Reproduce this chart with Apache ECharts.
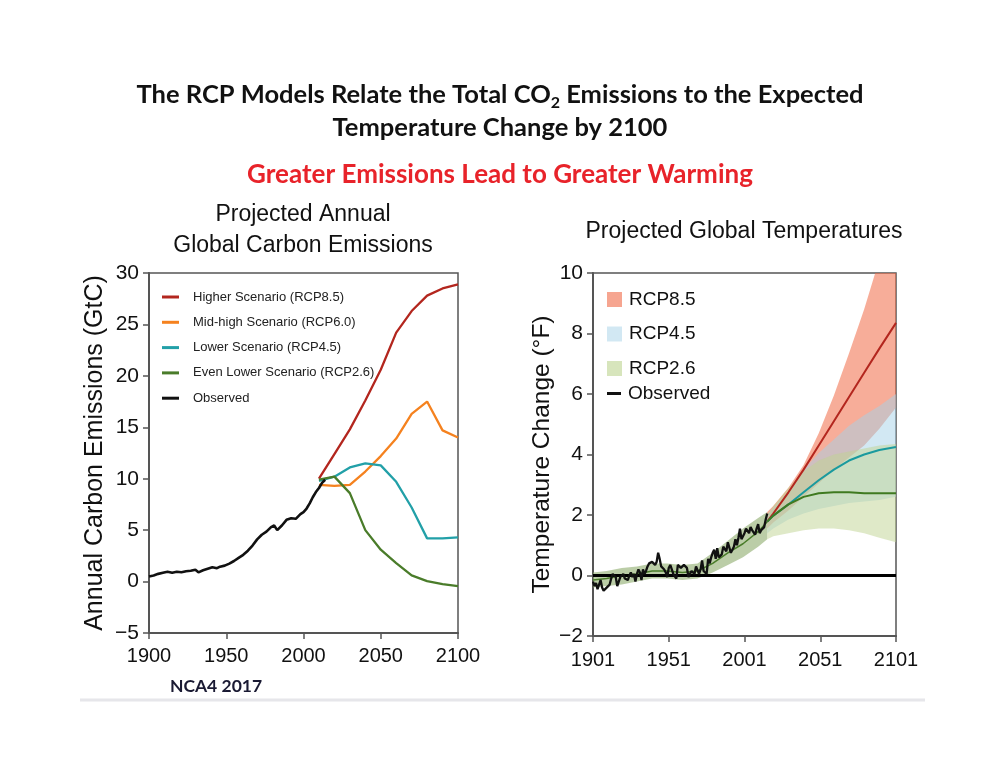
<!DOCTYPE html>
<html>
<head>
<meta charset="utf-8">
<script src="https://cdn.jsdelivr.net/npm/echarts@6/dist/echarts.min.js"></script>
<style>
  html, body { margin: 0; padding: 0; background: #fff; }
  #chart { width: 1000px; height: 773px; }
</style>
</head>
<body>
<div id="chart"></div>
<script>
// ---- left panel: annual carbon emissions (GtC) ----
var emisObsYears = [1900, 1903, 1906, 1909, 1912, 1915, 1918, 1921, 1924, 1927, 1930, 1932, 1935, 1938, 1941, 1944, 1946, 1949, 1952, 1955, 1958, 1961, 1964, 1967, 1970, 1973, 1976, 1979, 1981, 1983, 1986, 1989, 1992, 1995, 1998, 2000, 2002, 2004, 2006, 2008, 2010, 2012, 2014];
var emisObs = [0.5, 0.6, 0.75, 0.85, 0.95, 0.85, 0.95, 0.9, 1.0, 1.05, 1.15, 0.9, 1.1, 1.25, 1.4, 1.3, 1.45, 1.55, 1.75, 2.0, 2.3, 2.6, 3.0, 3.5, 4.1, 4.55, 4.85, 5.3, 5.45, 5.0, 5.45, 6.0, 6.15, 6.1, 6.55, 6.75, 7.1, 7.6, 8.2, 8.7, 9.1, 9.6, 9.9];
var scenYears = [2010, 2020, 2030, 2040, 2050, 2060, 2070, 2080, 2090, 2100];
var emisRcp85 = [10.0, 12.4, 14.8, 17.6, 20.6, 24.2, 26.3, 27.8, 28.5, 28.9];
var emisRcp60 = [9.4, 9.3, 9.4, 10.7, 12.2, 13.9, 16.3, 17.5, 14.7, 14.0];
var emisRcp45 = [9.8, 10.2, 11.1, 11.5, 11.3, 9.7, 7.2, 4.2, 4.2, 4.3];
var emisRcp26 = [9.9, 10.2, 8.6, 5.0, 3.1, 1.8, 0.6, 0.05, -0.25, -0.45];
var emisNames = ['Higher Scenario (RCP8.5)', 'Mid-high Scenario (RCP6.0)', 'Lower Scenario (RCP4.5)', 'Even Lower Scenario (RCP2.6)', 'Observed'];

// ---- right panel: temperature change (°F) ----
var tempObsStart = 1901;
var tempObs = [
  -0.20, -0.35, -0.25, -0.45, -0.30, -0.15, -0.40, -0.50, -0.55, -0.40,
  -0.45, -0.30, -0.10, 0.05, 0.10, -0.05, -0.35, -0.20, -0.05, -0.10,
  0.05, -0.10, -0.05, -0.15, 0.00, 0.10, -0.05, 0.05, -0.20, 0.05,
  0.20, 0.10, -0.15, 0.20, 0.05, 0.15, 0.30, 0.40, 0.35, 0.45,
  0.40, 0.35, 0.45, 0.75, 0.55, 0.30, 0.35, 0.20, 0.10, -0.05,
  0.25, 0.35, 0.40, 0.05, 0.00, -0.10, 0.35, 0.30, 0.25, 0.20,
  0.35, 0.30, 0.25, -0.05, 0.00, 0.15, 0.10, 0.05, 0.30, 0.25,
  0.05, 0.20, 0.50, 0.15, 0.20, 0.05, 0.55, 0.40, 0.60, 0.75,
  0.85, 0.55, 0.90, 0.60, 0.55, 0.70, 0.95, 1.00, 0.80, 1.10,
  1.05, 0.75, 0.85, 0.95, 1.20, 1.00, 1.25, 1.55, 1.20, 1.20,
  1.40, 1.55, 1.50, 1.40, 1.60, 1.50, 1.55, 1.35, 1.55, 1.70,
  1.40, 1.50, 1.55, 1.60, 1.85, 2.05
];
var histYears = [1901, 1910, 1920, 1930, 1940, 1950, 1960, 1970, 1980, 1990, 2000, 2010, 2016];
var histMean = [-0.15, -0.1, 0.0, 0.05, 0.15, 0.15, 0.1, 0.15, 0.4, 0.75, 1.05, 1.45, 1.78];
var histLow = [-0.4, -0.35, -0.3, -0.2, -0.1, -0.1, -0.15, -0.1, 0.1, 0.35, 0.6, 0.95, 1.2];
var histHigh = [0.1, 0.15, 0.25, 0.3, 0.4, 0.4, 0.35, 0.4, 0.75, 1.15, 1.55, 1.9, 2.1];
var projYears = [2016, 2020, 2030, 2040, 2050, 2060, 2070, 2080, 2090, 2101];
var rcp85Mean = [1.78, 2.05, 2.75, 3.5, 4.3, 5.1, 5.9, 6.7, 7.5, 8.35];
var rcp85Low = [1.55, 1.75, 2.15, 2.6, 3.05, 3.5, 3.9, 4.3, 4.85, 5.55];
var rcp85High = [2.1, 2.3, 2.9, 3.65, 4.7, 5.95, 7.35, 8.8, 10.45, 12.3];
var rcp45Mean = [1.78, 1.98, 2.35, 2.75, 3.15, 3.5, 3.8, 4.0, 4.15, 4.25];
var rcp45Low = [1.4, 1.55, 1.85, 2.05, 2.2, 2.3, 2.4, 2.45, 2.5, 2.6];
var rcp45High = [2.0, 2.25, 2.8, 3.5, 4.05, 4.5, 4.95, 5.3, 5.6, 6.0];
var rcp26Mean = [1.78, 1.98, 2.35, 2.6, 2.72, 2.75, 2.75, 2.72, 2.72, 2.72];
var rcp26Low = [1.2, 1.3, 1.4, 1.5, 1.55, 1.55, 1.5, 1.4, 1.25, 1.1];
var rcp26High = [2.0, 2.3, 2.9, 3.45, 3.8, 4.0, 4.1, 4.2, 4.3, 4.35];

var F = '"Liberation Sans", Arial, sans-serif';
var axisCol = '#555';

function pairs(xs, ys) {
  var out = [];
  for (var i = 0; i < xs.length; i++) out.push([xs[i], ys[i]]);
  return out;
}

function minusFmt(v) {
  return String(v).replace('-', '\u2212');
}

// shaded range: one polygon through upper edge then back along lower edge
function band(name, xs, lo, hi, color) {
  var rows = [];
  for (var i = 0; i < xs.length; i++) rows.push([xs[i], lo[i], hi[i]]);
  return {
    name: name, type: 'custom', xAxisIndex: 1, yAxisIndex: 1,
    z: 1, silent: true, clip: true,
    itemStyle: { color: color },
    encode: { x: 0, y: [1, 2] },
    data: rows,
    renderItem: function (params, api) {
      if (params.dataIndex !== 0) return null;
      var pts = [];
      for (var j = 0; j < rows.length; j++) pts.push(api.coord([rows[j][0], rows[j][2]]));
      for (var j2 = rows.length - 1; j2 >= 0; j2--) pts.push(api.coord([rows[j2][0], rows[j2][1]]));
      return { type: 'polygon', shape: { points: pts }, style: { fill: color } };
    }
  };
}

function line(name, xi, xs, ys, color, w, z) {
  return {
    name: name, type: 'line', xAxisIndex: xi, yAxisIndex: xi,
    data: pairs(xs, ys), showSymbol: false, silent: true, z: z || 3,
    itemStyle: { color: color },
    lineStyle: { color: color, width: w }
  };
}

var obsYears = [];
for (var k = 0; k < tempObs.length; k++) obsYears.push(tempObsStart + k);

var myChart = echarts.init(document.getElementById('chart'));

var series = [
  line(emisNames[0], 0, scenYears, emisRcp85, '#b3261e', 2.3),
  line(emisNames[1], 0, scenYears, emisRcp60, '#f5821f', 2.3),
  line(emisNames[2], 0, scenYears, emisRcp45, '#22a0a8', 2.3),
  line(emisNames[3], 0, scenYears, emisRcp26, '#4a7c2a', 2.3),
  line(emisNames[4], 0, emisObsYears, emisObs, '#111', 2.6, 4),
  band('hist', histYears, histLow, histHigh, 'rgba(150,178,120,0.65)'),
  band('RCP8.5', projYears, rcp85Low, rcp85High, 'rgba(240,105,70,0.55)'),
  band('RCP4.5', projYears, rcp45Low, rcp45High, 'rgba(165,209,231,0.5)'),
  band('RCP2.6', projYears, rcp26Low, rcp26High, 'rgba(191,211,145,0.5)'),
  line('hist mean', 1, histYears, histMean, '#4a7c2a', 1.5, 2),
  line('rcp85 mean', 1, projYears, rcp85Mean, '#b3261e', 2),
  line('rcp45 mean', 1, projYears, rcp45Mean, '#1a9a9e', 2),
  line('rcp26 mean', 1, projYears, rcp26Mean, '#3f7a20', 2)
];
var obsSeries = line('Observed', 1, obsYears, tempObs, '#111', 2.3, 4);
obsSeries.markLine = {
  silent: true, symbol: 'none', z: 3, label: { show: false },
  lineStyle: { color: '#000', width: 3, type: 'solid' },
  data: [{ yAxis: 0 }]
};
series.push(obsSeries);

var option = {
  backgroundColor: '#fff',
  animation: false,
  title: [{
    text: 'The RCP Models Relate the Total CO{sub|2} Emissions to the Expected\nTemperature Change by 2100',
    left: 500, top: 78, textAlign: 'center', padding: 0,
    textStyle: {
      fontFamily: 'Lato, "Open Sans", sans-serif', fontWeight: 'bold', fontSize: 25.5,
      color: '#111', lineHeight: 33,
      rich: { sub: { fontFamily: 'Lato, sans-serif', fontWeight: 'bold', fontSize: 16, lineHeight: 16, verticalAlign: 'bottom', color: '#111' } }
    }
  }, {
    text: 'Greater Emissions Lead to Greater Warming',
    left: 500, top: 160, textAlign: 'center', padding: 0,
    textStyle: { fontFamily: 'Lato, sans-serif', fontWeight: 'bold', fontSize: 26, color: '#e8232a', lineHeight: 30 }
  }, {
    text: 'Projected Annual\nGlobal Carbon Emissions',
    left: 303, top: 199, textAlign: 'center', padding: 0,
    textStyle: { fontFamily: F, fontWeight: 'normal', fontSize: 23, color: '#111', lineHeight: 31 }
  }, {
    text: 'Projected Global Temperatures',
    left: 744, top: 217, textAlign: 'center', padding: 0,
    textStyle: { fontFamily: F, fontWeight: 'normal', fontSize: 23, color: '#111', lineHeight: 30 }
  }, {
    text: 'NCA4 2017',
    left: 216, top: 676, textAlign: 'center', padding: 0,
    textStyle: { fontFamily: 'Lato, sans-serif', fontWeight: 'bold', fontSize: 17.5, color: '#1a1a33', lineHeight: 20 }
  }],
  legend: [{
    data: emisNames,
    orient: 'vertical', left: 162, top: 289, padding: 0,
    icon: 'rect', itemWidth: 17, itemHeight: 3, itemGap: 9.3,
    textStyle: { fontFamily: F, fontSize: 13, color: '#222', lineHeight: 16, padding: [0, 0, 0, 9] }
  }, {
    data: [
      { name: 'RCP8.5', itemStyle: { color: '#f6a590' } },
      { name: 'RCP4.5', itemStyle: { color: '#d2e8f3' } },
      { name: 'RCP2.6', itemStyle: { color: '#d7e5bc' } }
    ],
    orient: 'vertical', left: 607, top: 290, padding: 0,
    icon: 'rect', itemWidth: 15, itemHeight: 15, itemGap: 15.5,
    textStyle: { fontFamily: F, fontSize: 19, color: '#111', lineHeight: 18, padding: [0, 0, 0, 2] }
  }, {
    data: ['Observed'],
    orient: 'vertical', left: 607, top: 384, padding: 0,
    icon: 'rect', itemWidth: 14, itemHeight: 3,
    textStyle: { fontFamily: F, fontSize: 19, color: '#111', lineHeight: 18, padding: [0, 0, 0, 2] }
  }],
  grid: [
    { left: 149, top: 273, width: 309, height: 360, show: true, borderColor: axisCol, borderWidth: 1.5, backgroundColor: 'transparent' },
    { left: 593, top: 273, width: 303, height: 363, show: true, borderColor: axisCol, borderWidth: 1.5, backgroundColor: 'transparent' }
  ],
  xAxis: [{
    gridIndex: 0, type: 'value', min: 1900, max: 2100, interval: 50,
    axisLine: { show: true, onZero: false, lineStyle: { color: axisCol, width: 2 } },
    axisTick: { show: true, inside: false, length: 6, lineStyle: { color: axisCol, width: 1.5 } },
    axisLabel: { fontFamily: F, fontSize: 20, color: '#111', margin: 13, formatter: function (v) { return String(v); } },
    splitLine: { show: false }
  }, {
    gridIndex: 1, type: 'value', min: 1901, max: 2101, interval: 50,
    axisLine: { show: true, onZero: false, lineStyle: { color: axisCol, width: 2 } },
    axisTick: { show: true, inside: false, length: 6, lineStyle: { color: axisCol, width: 1.5 } },
    axisLabel: { fontFamily: F, fontSize: 20, color: '#111', margin: 14, formatter: function (v) { return String(v); } },
    splitLine: { show: false }
  }],
  yAxis: [{
    gridIndex: 0, type: 'value', min: -5, max: 30, interval: 5,
    name: 'Annual Carbon Emissions (GtC)', nameLocation: 'middle', nameGap: 41,
    nameTextStyle: { fontFamily: F, fontSize: 25, color: '#111' },
    axisLine: { show: true, onZero: false, lineStyle: { color: axisCol, width: 2 } },
    axisTick: { show: true, inside: false, length: 6, lineStyle: { color: axisCol, width: 1.5 } },
    axisLabel: { fontFamily: F, fontSize: 21, color: '#111', margin: 10, formatter: minusFmt },
    splitLine: { show: false }
  }, {
    gridIndex: 1, type: 'value', min: -2, max: 10, interval: 2,
    name: 'Temperature Change (\u00b0F)', nameLocation: 'middle', nameGap: 33,
    nameTextStyle: { fontFamily: F, fontSize: 24.5, color: '#111' },
    axisLine: { show: true, onZero: false, lineStyle: { color: axisCol, width: 2 } },
    axisTick: { show: true, inside: false, length: 6, lineStyle: { color: axisCol, width: 1.5 } },
    axisLabel: { fontFamily: F, fontSize: 21, color: '#111', margin: 10, formatter: minusFmt },
    splitLine: { show: false }
  }],
  graphic: [{
    type: 'line', silent: true,
    shape: { x1: 80, y1: 700, x2: 925, y2: 700 },
    style: { stroke: '#e6e6ea', lineWidth: 3 }
  }],
  series: series
};
myChart.setOption(option);
</script>
</body>
</html>
